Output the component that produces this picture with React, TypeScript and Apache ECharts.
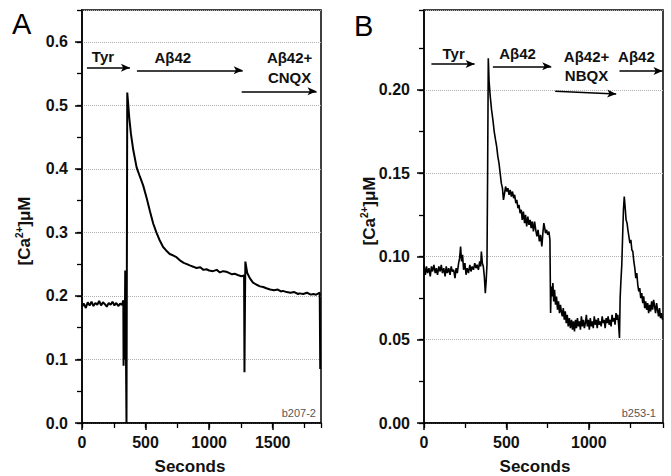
import React, { useEffect, useRef } from "react";
import * as echarts from "echarts";

// ---------- data ----------
const seriesA: [number, number][] = [
  [0, 0.183], [15, 0.188], [30, 0.181], [45, 0.19], [60, 0.185], [75, 0.191], [90, 0.184], [105, 0.189],
  [120, 0.186], [135, 0.192], [150, 0.185], [165, 0.19], [180, 0.187], [195, 0.183], [210, 0.189],
  [225, 0.186], [240, 0.191], [255, 0.185], [270, 0.189], [285, 0.184], [300, 0.188], [315, 0.186],
  [325, 0.193], [327, 0.09], [330, 0.16], [335, 0.1], [340, 0.24], [345, 0.13], [350, 0.0], [356, 0.52],
  [360, 0.51], [372, 0.48], [385, 0.455], [403, 0.43], [430, 0.402], [455, 0.388], [481, 0.374], [510, 0.353],
  [535, 0.333], [560, 0.314], [585, 0.3], [610, 0.288], [638, 0.277], [660, 0.272], [690, 0.266],
  [715, 0.264], [743, 0.261], [770, 0.256], [800, 0.252], [825, 0.25], [848, 0.248], [875, 0.246],
  [900, 0.244], [930, 0.245], [955, 0.241], [979, 0.242], [1000, 0.24], [1030, 0.239], [1060, 0.241],
  [1085, 0.237], [1110, 0.239], [1136, 0.238], [1160, 0.236], [1180, 0.234], [1200, 0.235],
  [1225, 0.233], [1254, 0.231], [1275, 0.232], [1278, 0.08], [1282, 0.19], [1285, 0.254], [1300, 0.236],
  [1320, 0.228], [1345, 0.221], [1370, 0.218], [1400, 0.215], [1425, 0.214], [1450, 0.212],
  [1480, 0.21], [1510, 0.209], [1540, 0.21], [1565, 0.207], [1580, 0.208], [1610, 0.206], [1640, 0.205],
  [1670, 0.206], [1700, 0.203], [1711, 0.204], [1740, 0.203], [1770, 0.205], [1800, 0.202],
  [1820, 0.203], [1842, 0.202], [1860, 0.204], [1870, 0.205], [1874, 0.085],
];

const seriesB: [number, number][] = [
  [0, 0.095], [8, 0.089], [15, 0.094], [22, 0.09], [30, 0.093], [38, 0.088], [45, 0.094], [52, 0.091],
  [60, 0.095], [68, 0.09], [75, 0.093], [82, 0.089], [90, 0.094], [98, 0.091], [105, 0.095], [112, 0.09],
  [120, 0.093], [128, 0.088], [135, 0.094], [142, 0.09], [150, 0.093], [158, 0.089], [165, 0.094],
  [172, 0.091], [180, 0.092], [188, 0.087], [195, 0.093], [202, 0.09], [210, 0.096], [216, 0.099],
  [222, 0.106], [228, 0.097], [234, 0.101], [240, 0.092], [248, 0.096], [255, 0.089], [262, 0.093],
  [270, 0.09], [278, 0.095], [285, 0.091], [292, 0.094], [300, 0.092], [308, 0.096], [315, 0.093],
  [322, 0.095], [330, 0.092], [338, 0.097], [344, 0.094], [348, 0.103], [354, 0.096], [360, 0.094],
  [366, 0.088], [372, 0.078], [377, 0.085], [382, 0.095], [386, 0.15], [390, 0.219], [395, 0.205],
  [402, 0.196], [410, 0.188], [418, 0.182], [426, 0.175], [434, 0.17], [441, 0.166], [448, 0.16],
  [455, 0.156], [462, 0.15], [469, 0.144], [476, 0.141], [482, 0.134], [489, 0.138], [495, 0.142],
  [502, 0.139], [509, 0.141], [516, 0.137], [523, 0.14], [530, 0.136], [537, 0.139], [544, 0.135],
  [550, 0.137], [557, 0.132], [563, 0.134], [570, 0.129], [576, 0.131], [583, 0.126], [590, 0.128],
  [596, 0.122], [603, 0.127], [610, 0.12], [616, 0.125], [623, 0.118], [630, 0.124], [637, 0.119],
  [644, 0.122], [650, 0.117], [657, 0.121], [664, 0.115], [671, 0.121], [678, 0.116], [685, 0.112],
  [692, 0.116], [700, 0.109], [707, 0.113], [715, 0.106], [722, 0.115], [727, 0.12], [731, 0.118],
  [737, 0.114], [744, 0.116], [751, 0.113], [758, 0.115], [764, 0.11], [768, 0.066], [772, 0.082],
  [777, 0.076], [782, 0.084], [787, 0.073], [792, 0.08], [798, 0.071], [804, 0.076], [810, 0.068],
  [816, 0.073], [822, 0.066], [828, 0.071], [833, 0.067], [839, 0.064], [845, 0.069], [851, 0.062],
  [857, 0.067], [863, 0.06], [869, 0.065], [875, 0.058], [882, 0.063], [888, 0.057], [895, 0.062],
  [901, 0.056], [907, 0.061], [913, 0.055], [919, 0.062], [925, 0.057], [931, 0.063], [937, 0.058],
  [943, 0.061], [949, 0.056], [955, 0.064], [961, 0.058], [967, 0.062], [973, 0.057], [979, 0.06],
  [985, 0.065], [991, 0.058], [997, 0.062], [1003, 0.056], [1009, 0.063], [1015, 0.058], [1021, 0.061],
  [1027, 0.057], [1033, 0.064], [1039, 0.059], [1045, 0.062], [1051, 0.057], [1057, 0.063],
  [1063, 0.059], [1069, 0.061], [1075, 0.058], [1081, 0.064], [1087, 0.06], [1093, 0.062],
  [1099, 0.057], [1105, 0.063], [1111, 0.06], [1117, 0.064], [1123, 0.059], [1129, 0.062],
  [1135, 0.058], [1141, 0.065], [1147, 0.061], [1153, 0.063], [1159, 0.059], [1165, 0.066],
  [1171, 0.062], [1176, 0.065], [1180, 0.06], [1186, 0.051], [1190, 0.075], [1194, 0.084], [1200, 0.095],
  [1205, 0.112], [1210, 0.128], [1215, 0.136], [1220, 0.13], [1226, 0.122], [1232, 0.12], [1237, 0.116],
  [1243, 0.112], [1249, 0.108], [1255, 0.11], [1261, 0.104], [1267, 0.103], [1273, 0.097], [1279, 0.093],
  [1285, 0.087], [1291, 0.09], [1297, 0.083], [1303, 0.079], [1309, 0.081], [1315, 0.075], [1321, 0.078],
  [1327, 0.072], [1333, 0.076], [1339, 0.069], [1345, 0.073], [1351, 0.068], [1357, 0.072],
  [1363, 0.066], [1369, 0.071], [1375, 0.067], [1381, 0.073], [1387, 0.068], [1393, 0.074],
  [1399, 0.07], [1405, 0.066], [1411, 0.072], [1417, 0.068], [1423, 0.064], [1429, 0.069],
  [1435, 0.063], [1441, 0.066], [1447, 0.062],
];

// arrows: [x1, y1, x2, y2] in data coordinates
const arrowsA: [number, number, number, number][] = [
  [39, 0.559, 377, 0.559],
  [432, 0.555, 1264, 0.555],
  [1256, 0.522, 1845, 0.522],
];
const arrowsB: [number, number, number, number][] = [
  [45, 0.2155, 307, 0.2155],
  [418, 0.2142, 772, 0.2142],
  [796, 0.1992, 1166, 0.1976],
  [1186, 0.2114, 1447, 0.2114],
];
// annotation labels: [text, x, y] in data coordinates (label centre)
const labelsA: [string, number, number][] = [
  ["Tyr", 165, 0.577],
  ["Aβ42", 714, 0.575],
  ["Aβ42+", 1633, 0.575],
  ["CNQX", 1633, 0.544],
];
const labelsB: [string, number, number][] = [
  ["Tyr", 180, 0.2221],
  ["Aβ42", 568, 0.2221],
  ["Aβ42+", 986, 0.2203],
  ["NBQX", 986, 0.2088],
  ["Aβ42", 1289, 0.2203],
];

// axis settings
const xMaxA = 1880;
const yMaxA = 0.65;
const xMaxB = 1450;
const yMaxB = 0.248;

const FONT = "'Liberation Sans', Arial, Helvetica, sans-serif";

function mainX(gridIndex: number, max: number) {
  return {
    type: "value",
    gridIndex,
    position: "bottom",
    min: 0,
    max,
    interval: 500,
    axisLine: { show: true, lineStyle: { color: "#000", width: 1.5 } },
    axisTick: { show: true, length: 7, lineStyle: { color: "#000", width: 1.5 } },
    axisLabel: {
      show: true,
      margin: 11,
      color: "#111",
      fontFamily: FONT,
      fontWeight: "bold",
      fontSize: 16,
      showMaxLabel: false,
      formatter: (v: number) => String(Math.round(v)),
    },
    splitLine: { show: false },
  };
}
function minorX(gridIndex: number, max: number) {
  return {
    type: "value",
    gridIndex,
    position: "bottom",
    min: 0,
    max,
    interval: 250,
    axisLine: { show: false },
    axisTick: { show: true, length: 5, lineStyle: { color: "#000", width: 1.3 } },
    axisLabel: { show: false },
    splitLine: { show: false },
  };
}
function mainY(gridIndex: number, max: number, interval: number, digits: number) {
  return {
    type: "value",
    gridIndex,
    position: "left",
    min: 0,
    max,
    interval,
    axisLine: { show: true, lineStyle: { color: "#000", width: 1.5 } },
    axisTick: { show: true, length: 7, lineStyle: { color: "#000", width: 1.5 } },
    axisLabel: {
      show: true,
      margin: 14,
      color: "#111",
      fontFamily: FONT,
      fontWeight: "bold",
      fontSize: 16,
      showMaxLabel: false,
      formatter: (v: number) => v.toFixed(digits),
    },
    splitLine: { show: true, lineStyle: { color: "#b0b0b0", type: "dotted", width: 1 } },
  };
}
function minorY(gridIndex: number, max: number, interval: number) {
  return {
    type: "value",
    gridIndex,
    position: "left",
    min: 0,
    max,
    interval,
    axisLine: { show: false },
    axisTick: { show: true, length: 5, lineStyle: { color: "#000", width: 1.3 } },
    axisLabel: { show: false },
    splitLine: { show: false },
  };
}

function arrowLines(arrows: [number, number, number, number][]) {
  return arrows.map(([x1, y1, x2, y2]) => [{ coord: [x1, y1] }, { coord: [x2, y2] }]);
}
function labelPoints(labels: [string, number, number][]) {
  return labels.map(([name, x, y]) => ({ name, coord: [x, y] }));
}

function traceSeries(data: [number, number][], xi: number, yi: number, width: number,
  arrows: [number, number, number, number][], labels: [string, number, number][]) {
  return {
    type: "line",
    xAxisIndex: xi,
    yAxisIndex: yi,
    data,
    showSymbol: false,
    symbol: "none",
    lineStyle: { color: "#000", width },
    silent: true,
    markLine: {
      silent: true,
      symbol: ["none", "arrow"],
      symbolSize: [6, 9],
      label: { show: false },
      lineStyle: { color: "#000", width: 1.5, type: "solid" },
      data: arrowLines(arrows),
    },
    markPoint: {
      silent: true,
      symbol: "rect",
      symbolSize: 1,
      itemStyle: { color: "rgba(0,0,0,0)" },
      label: {
        show: true,
        position: "inside",
        color: "#111",
        fontFamily: FONT,
        fontWeight: "bold",
        fontSize: 15,
        formatter: (p: any) => p.name,
      },
      data: labelPoints(labels),
    },
  };
}

function yName(x: number, y: number) {
  return {
    type: "text",
    x,
    y,
    rotation: Math.PI / 2,
    style: {
      text: "{a|[Ca}{s|2+}{a|]μM}",
      align: "center",
      verticalAlign: "middle",
      rich: {
        a: { fontFamily: FONT, fontWeight: "bold", fontSize: 17, fill: "#111", lineHeight: 20 },
        s: { fontFamily: FONT, fontWeight: "bold", fontSize: 10, fill: "#111", verticalAlign: "top", lineHeight: 20 },
      },
    },
  };
}
function plainText(text: string, x: number, y: number, size: number, weight: string, align: string, color: string) {
  return {
    type: "text",
    x,
    y,
    style: { text, fontFamily: FONT, fontWeight: weight, fontSize: size, fill: color, align, verticalAlign: "middle" },
  };
}

export default function App() {
  const ref = useRef<HTMLDivElement>(null);
  useEffect(() => {
    if (!ref.current) return;
    const chart = echarts.init(ref.current, undefined, { renderer: "svg" });
    chart.setOption({
      animation: false,
      backgroundColor: "#fff",
      grid: [
        { left: 82, top: 10, width: 239, height: 413, show: true, borderColor: "#000", borderWidth: 1.5, backgroundColor: "transparent", containLabel: false },
        { left: 424, top: 10, width: 239, height: 413, show: true, borderColor: "#000", borderWidth: 1.5, backgroundColor: "transparent", containLabel: false },
      ],
      xAxis: [mainX(0, xMaxA), minorX(0, xMaxA), mainX(1, xMaxB), minorX(1, xMaxB)],
      yAxis: [mainY(0, yMaxA, 0.1, 1), minorY(0, yMaxA, 0.05), mainY(1, yMaxB, 0.05, 2), minorY(1, yMaxB, 0.025)],
      series: [
        traceSeries(seriesA, 0, 0, 2, arrowsA, labelsA),
        traceSeries(seriesB, 2, 2, 1.6, arrowsB, labelsB),
      ],
      graphic: [
        plainText("A", 12, 24, 29, "normal", "left", "#000"),
        plainText("B", 354, 26, 29, "normal", "left", "#000"),
        yName(24, 231),
        yName(369, 211),
        plainText("Seconds", 190, 466, 17, "bold", "center", "#111"),
        plainText("Seconds", 535, 466, 17, "bold", "center", "#111"),
        plainText("b207-2", 316, 413, 11, "normal", "right", "#555"),
        plainText("b253-1", 656, 413, 11, "normal", "right", "#555"),
      ],
    });
    return () => chart.dispose();
  }, []);
  return (
    <div
      ref={ref}
      style={{ position: "fixed", left: 0, top: 0, width: 671, height: 476, background: "#fff" }}
    />
  );
}
